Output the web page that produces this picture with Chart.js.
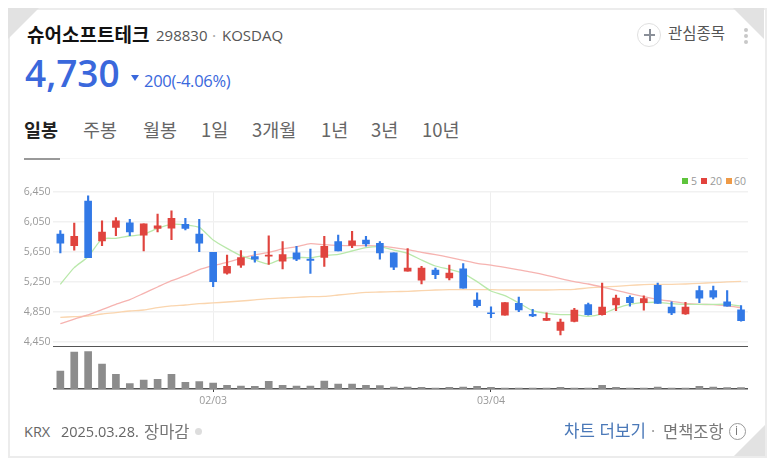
<!DOCTYPE html>
<html lang="ko">
<head>
<meta charset="utf-8">
<title>슈어소프트테크</title>
<script src="https://cdn.jsdelivr.net/npm/chart.js@4"></script>
<style>
  html, body { margin: 0; padding: 0; background: #fff; }
  body { width: 773px; height: 463px; position: relative; overflow: hidden; font-family: "Noto Sans CJK KR", "Noto Sans", sans-serif; color: #555; }
  .t { position: absolute; white-space: nowrap; line-height: 1; }
  .card { position: absolute; left: 8px; top: 8px; width: 755px; height: 446px; border: 2px solid #ececec; box-sizing: content-box; }
  .fold { position: absolute; width: 0; height: 0; }
  canvas { position: absolute; left: 0; }
  .tab { position: absolute; top: 120px; font-size: 18.5px; line-height: 19px; color: #666; white-space: nowrap; }
  .sq { position: absolute; top: 178px; width: 6px; height: 6px; }
</style>
</head>
<body>
<div class="card"></div>
<div class="fold" style="left:8px;top:8px;border-top:31px solid #e2e2e2;border-right:31px solid transparent"></div>
<div class="fold" style="left:733px;top:8px;border-top:31px solid #e2e2e2;border-left:31px solid transparent"></div>
<div class="fold" style="left:734px;top:425px;border-bottom:31px solid #e2e2e2;border-left:31px solid transparent"></div>

<div class="t" style="left:27px;top:24px;font-size:19px;font-weight:700;color:#111">슈어소프트테크</div>
<div class="t" style="left:156px;top:28px;font-size:15px;color:#555;font-family:'Open Sans'">298830</div>
<div class="t" style="left:212px;top:28px;font-size:15px;color:#aaa">·</div>
<div class="t" style="left:222px;top:28px;font-size:15px;color:#555;font-family:'Open Sans'">KOSDAQ</div>
<div class="t" style="left:25px;top:54px;font-size:37px;font-weight:600;color:#3a68dc;font-family:'Open Sans'">4,730</div>
<div class="fold" style="left:131px;top:75px;border-top:6px solid #3a68dc;border-left:4px solid transparent;border-right:4px solid transparent"></div>
<div class="t" style="left:144px;top:73px;font-size:16.5px;letter-spacing:-.3px;color:#3a68dc;font-family:'Open Sans'">200(-4.06%)</div>

<div class="t" style="left:668px;top:25px;font-size:15.5px;color:#555">관심종목</div>
<div style="position:absolute;left:637px;top:23px;width:22px;height:22px;border:1.5px solid #e0e0e0;border-radius:50%"></div>
<div style="position:absolute;left:644px;top:34px;width:11px;height:2px;background:#8a8f98"></div>
<div style="position:absolute;left:649px;top:29px;width:2px;height:12px;background:#8a8f98"></div>
<div style="position:absolute;left:744px;top:28px;width:4px;height:4px;border-radius:50%;background:#c8c8c8;box-shadow:0 6px 0 #c8c8c8,0 12px 0 #c8c8c8"></div>

<div class="tab" style="left:24px;font-weight:700;color:#222">일봉</div>
<div class="tab" style="left:83px">주봉</div>
<div class="tab" style="left:143px">월봉</div>
<div class="tab" style="left:201px">1일</div>
<div class="tab" style="left:252px">3개월</div>
<div class="tab" style="left:321px">1년</div>
<div class="tab" style="left:371px">3년</div>
<div class="tab" style="left:422px">10년</div>
<div style="position:absolute;left:60px;top:158px;width:688px;height:1px;background:#f6f6f6"></div>
<div style="position:absolute;left:24px;top:158px;width:36px;height:1.5px;background:#999"></div>

<div class="sq" style="left:682px;background:#5ec43c"></div>
<div class="t" style="left:691px;top:176px;font-size:10.5px;color:#999;font-family:'Open Sans'">5</div>
<div class="sq" style="left:701px;background:#e2433d"></div>
<div class="t" style="left:710px;top:176px;font-size:10.5px;color:#999;font-family:'Open Sans'">20</div>
<div class="sq" style="left:726px;background:#ee9a47"></div>
<div class="t" style="left:734px;top:176px;font-size:10.5px;color:#999;font-family:'Open Sans'">60</div>

<canvas id="priceChart" style="top:180px"></canvas>
<div style="position:absolute;left:53px;top:345.5px;width:695px;height:1.5px;background:#555"></div>
<canvas id="volumeChart" style="top:346px"></canvas>

<div class="t" style="left:24px;top:425px;font-size:14.5px;color:#666;font-family:'Open Sans'">KRX</div>
<div class="t" style="left:61px;top:425px;font-size:14.5px;color:#666;font-family:'Open Sans'">2025.03.28.</div>
<div class="t" style="left:144px;top:423px;font-size:16.5px;color:#777">장마감</div>
<div style="position:absolute;left:195px;top:428px;width:7px;height:7px;border-radius:50%;background:#ddd"></div>
<div class="t" style="left:564px;top:422px;font-size:16.8px;color:#4a78b8">차트 더보기</div>
<div class="t" style="left:651px;top:423px;font-size:15px;color:#999">·</div>
<div class="t" style="left:663px;top:423px;font-size:16.5px;color:#777">면책조항</div>
<div style="position:absolute;left:729px;top:423px;width:15px;height:15px;border:1.5px solid #999;border-radius:50%"></div>
<div class="t" style="left:735px;top:425px;font-size:12px;color:#777;font-family:'Open Sans'">i</div>

<script>
const dates = [
  "01/13","01/14","01/15","01/16","01/17","01/20","01/21","01/22","01/23","01/24",
  "01/31","02/03","02/04","02/05","02/06","02/07","02/10","02/11","02/12","02/13",
  "02/14","02/17","02/18","02/19","02/20","02/21","02/24","02/25","02/26","02/27",
  "02/28","03/04","03/05","03/06","03/07","03/10","03/11","03/12","03/13","03/14",
  "03/17","03/18","03/19","03/20","03/21","03/24","03/25","03/26","03/27","03/28",
];
const shownDates = ["02/03", "03/04"];
const priceTicks = [4450, 4850, 5250, 5650, 6050, 6450];

const opens = [
  5885,5730,6325,5795,5975,6035,5870,5960,5965,6015,
  5885,5640,5365,5470,5585,5590,5525,5635,5550,5575,
  5785,5735,5805,5760,5635,5390,5270,5405,5300,5420,
  5005,4835,4805,4960,4815,4735,4600,4720,4945,4810,
  4940,5040,4970,5200,4910,4820,5130,5130,4980,4875,
];
const highs = [
  5930,6030,6395,6060,6105,6080,6020,6150,6195,6095,
  6080,5640,5605,5665,5655,5860,5785,5720,5685,5855,
  5870,5920,5855,5785,5635,5690,5455,5430,5470,5490,
  5100,4915,4970,5045,4880,4835,4750,4895,4965,5230,
  5070,5060,5060,5230,4980,4975,5190,5190,5130,4930,
];
const lows = [
  5635,5670,5570,5730,5865,5865,5660,5915,5810,5940,
  5650,5185,5350,5440,5510,5480,5420,5530,5360,5455,
  5660,5705,5725,5550,5410,5390,5220,5290,5275,5165,
  4910,4770,4805,4850,4785,4730,4540,4715,4805,4805,
  4865,4925,4870,4960,4810,4815,4970,5020,4925,4725,
];
const closes = [
  5765,5855,5570,5910,6060,5915,6020,5995,6095,5960,
  5765,5250,5455,5570,5550,5605,5610,5550,5535,5720,
  5660,5795,5755,5635,5445,5430,5430,5345,5365,5165,
  4930,4825,4970,4875,4795,4760,4710,4870,4810,4910,
  5030,4970,5025,4960,4835,4910,5030,5045,4925,4730,
];

const ma5 = [
  5215,5437,5583,5819,5828,5859,5881,5961,6014,6006,
  5974,5806,5694,5597,5539,5486,5557,5575,5570,5597,
  5615,5659,5703,5717,5672,5628,5539,5459,5415,5361,
  5250,5126,5063,4966,4863,4828,4810,4810,4788,4819,
  4894,4948,4970,4975,4957,4948,4948,4948,4948,4926,
];
const ma20 = [
  4690,4752,4806,4877,4948,5010,5094,5179,5263,5330,
  5410,5463,5508,5561,5606,5641,5686,5717,5757,5743,
  5734,5730,5730,5726,5703,5677,5641,5610,5575,5535,
  5495,5472,5441,5406,5374,5335,5290,5250,5219,5179,
  5135,5090,5050,5014,4988,4961,4948,4943,4926,4903,
];
const ma60 = [
  4775,4783,4792,4819,4837,4859,4872,4903,4926,4939,
  4957,4966,4979,4992,5006,5023,5032,5041,5050,5054,
  5072,5090,5108,5112,5117,5121,5130,5139,5143,5143,
  5143,5143,5139,5139,5139,5139,5143,5148,5166,5179,
  5188,5201,5210,5215,5215,5219,5228,5237,5246,5254,
];
const volumes = [
  54,111,112,75,44,16,27,29,44,20,
  22,18,11,9,8,23,11,9,9,24,
  15,15,11,10,6,6,5,3,5,6,
  8,5,3,3,3,3,5,3,3,11,
  5,3,3,6,3,3,8,6,4,4,
];

const RED = "#e0443e";
const BLUE = "#3279e6";
const candleColors = closes.map((c, i) => (c >= opens[i] ? RED : BLUE));
const isShown = (i) => shownDates.includes(dates[i]);
const axisWidth = 53.4;
const labelFont = { family: "'Open Sans'", size: 10.5 };

function maLine(data, color) {
  return {
    type: "line",
    data,
    borderColor: color,
    borderWidth: 1.3,
    pointRadius: 0,
    tension: 0.2,
    order: 3,
  };
}

function setSize(canvas, w, h) {
  canvas.width = w;
  canvas.height = h;
  canvas.style.width = w + "px";
  canvas.style.height = h + "px";
}

Chart.defaults.animation = false;
Chart.defaults.responsive = false;
Chart.defaults.devicePixelRatio = 1;

// Price panel: candles are two overlaid floating bar sets
const priceCanvas = document.getElementById("priceChart");
setSize(priceCanvas, 748, 175);
new Chart(priceCanvas, {
  type: "bar",
  data: {
    labels: dates,
    datasets: [
      {
        data: opens.map((o, i) => [o, closes[i]]),
        backgroundColor: candleColors,
        barThickness: 7,
        grouped: false,
        order: 1,
      },
      {
        data: lows.map((l, i) => [l, highs[i]]),
        backgroundColor: candleColors,
        barThickness: 1.5,
        grouped: false,
        order: 2,
      },
      maLine(ma5, "#b9e8aa"),
      maLine(ma20, "#f6b3b0"),
      maLine(ma60, "#fad5ae"),
    ],
  },
  options: {
    layout: { autoPadding: false, padding: { top: 11.67, bottom: 13.33, left: 0, right: 0 } },
    plugins: { legend: { display: false }, tooltip: { enabled: false } },
    scales: {
      x: {
        offset: true,
        afterFit: (axis) => {
          axis.height = 0;
        },
        border: { display: false },
        ticks: { display: false, autoSkip: false },
        grid: {
          offset: false,
          drawTicks: false,
          color: (ctx) => (isShown(ctx.index) ? "#eeeeee" : "transparent"),
        },
      },
      y: {
        min: priceTicks[0],
        max: priceTicks[priceTicks.length - 1],
        afterBuildTicks: (axis) => {
          axis.ticks = priceTicks.map((v) => ({ value: v }));
        },
        afterFit: (axis) => {
          axis.width = axisWidth;
        },
        border: { display: false },
        grid: { color: "#f1f1f1", lineWidth: 1.5, drawTicks: false },
        ticks: {
          padding: 3,
          color: "#999",
          font: labelFont,
          callback: (v) => v.toLocaleString("en-US"),
        },
      },
    },
  },
});

// Volume panel
const volumeCanvas = document.getElementById("volumeChart");
setSize(volumeCanvas, 748, 65);
new Chart(volumeCanvas, {
  type: "bar",
  data: {
    labels: dates,
    datasets: [{ data: volumes, backgroundColor: "#8c8c8c", barThickness: 7 }],
  },
  options: {
    layout: { autoPadding: false },
    plugins: { legend: { display: false }, tooltip: { enabled: false } },
    scales: {
      x: {
        offset: true,
        afterFit: (axis) => {
          axis.height = 22;
        },
        border: { display: true, color: "#555", width: 1.5 },
        grid: {
          offset: false,
          drawOnChartArea: false,
          tickLength: 3,
          tickColor: (ctx) => (isShown(ctx.index) ? "#444" : "transparent"),
        },
        ticks: {
          autoSkip: false,
          maxRotation: 0,
          padding: 3,
          color: "#999",
          font: labelFont,
          callback: (v, i) => (isShown(i) ? dates[i] : ""),
        },
      },
      y: {
        min: 0,
        max: 129,
        afterFit: (axis) => {
          axis.width = axisWidth;
        },
        border: { display: false },
        grid: { display: false },
        ticks: { display: false },
      },
    },
  },
});
</script>
</body>
</html>
